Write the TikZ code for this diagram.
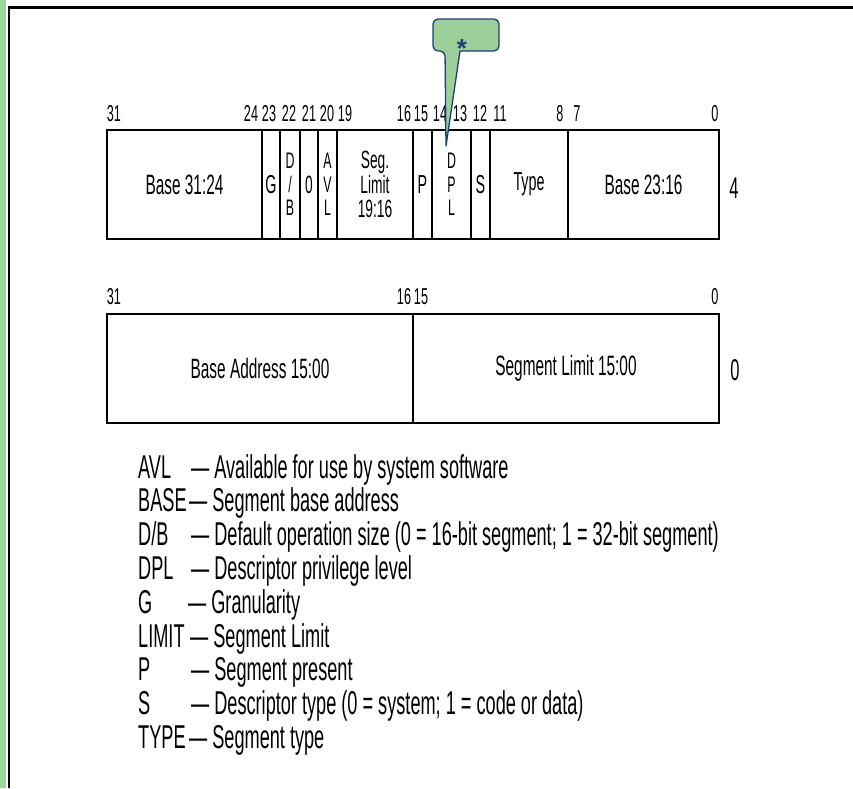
\documentclass[tikz,border=0pt]{standalone}
\usepackage{fontspec}
\setmainfont{Liberation Sans}[FakeStretch=0.55]
\newfontfamily\starfont{Liberation Sans}
\usetikzlibrary{positioning}

\definecolor{notefill}{HTML}{9DCF9B}
\definecolor{notedraw}{HTML}{1F3F73}
\definecolor{stripgreen}{HTML}{9ED49E}

\newcommand{\fsz}[1]{\fontsize{#1}{#1}\selectfont}

\begin{document}
\begin{tikzpicture}[
  x=1pt, y=-1pt,
  field/.style = {
    draw, line width=1.6pt, outer sep=0pt, inner sep=0pt,
    minimum width=#1, minimum height=109pt,
    align=center, font=\fsz{28}
  },
  stack/.style  = {font=\fontsize{22.5}{23.5}\selectfont},
  frame/.style  = {draw, line width=2.4pt},
  bitno/.style  = {anchor=base, inner sep=0pt, font=\fsz{23}},
  side/.style   = {inner sep=0pt, font=\fsz{30}},
  key/.style    = {anchor=base west, inner sep=0pt, font=\fsz{33}},
  note/.style   = {fill=notefill, draw=notedraw, line width=1.3pt, line join=round}
]
\useasboundingbox (0,0) rectangle (853,788);

% page edge
\fill[stripgreen] (0,0) rectangle (6,788);
\draw[line width=2.5pt] (9,788) -- (9,7.5) -- (853,7.5);

% upper doubleword
\node[field=155pt, anchor=north west] (basehi) at (107,130) {Base 31:24};
\node[field=18pt,  right=0pt of basehi, font=\fsz{26}] (g) {G};
\node[field=20pt,  right=0pt of g, stack] (db) {D\\/\\B};
\node[field=18pt,  right=0pt of db, font=\fsz{25}] (zero) {0};
\node[field=19pt,  right=0pt of zero, stack] (avl) {A\\V\\L};
\node[field=76pt,  right=0pt of avl, font=\fontsize{25}{24.5}\selectfont] (seglim) {Seg.\\Limit\\19:16};
\node[field=19pt,  right=0pt of seglim, font=\fsz{26}] (p) {P};
\node[field=39pt,  right=0pt of p, stack] (dpl) {D\\P\\L};
\node[field=19pt,  right=0pt of dpl, font=\fsz{26}] (s) {S};
\node[field=78pt,  right=0pt of s, font=\fsz{26}] (type) {Type};
\node[field=151pt, right=0pt of type]   (basemid) {Base 23:16};
\draw[frame] (basehi.north west) rectangle (basemid.south east);
\node[side] (off4) at (734,188) {4};

\foreach \b/\x in {31/114, 24/251, 23/269, 22/289, 21/309, 20/327, 19/345,
                   16/404, 15/421, 14/440, 13/460, 12/480, 11/500,
                   8/560, 7/577, 0/715}
  \node[bitno] (hi\b) at (\x,121) {\b};

% lower doubleword
\node[field=306pt, anchor=north west] (baselo) at (107,314) {Base Address 15:00};
\node[field=306pt, right=0pt of baselo] (limlo) {Segment Limit 15:00};
\draw[frame] (baselo.north west) rectangle (limlo.south east);
\node[side] (off0) at (735,370) {0};

\foreach \b/\x in {31/114, 16/404, 15/421, 0/715}
  \node[bitno] (lo\b) at (\x,304) {\b};

% legend
\foreach \k/\dx/\d [count=\i] in {
    AVL/191/Available for use by system software,
    BASE/189/Segment base address,
    {D/B}/191/Default operation size (0 = 16-bit segment; 1 = 32-bit segment),
    DPL/191/Descriptor privilege level,
    G/188/Granularity,
    LIMIT/190/Segment Limit,
    P/191/Segment present,
    S/191/Descriptor type (0 = system; 1 = code or data),
    TYPE/189/Segment type}
{
  \node[key] (k\i) at (138,{478+33.8*(\i-1)}) {\k};
  \node[key] (d\i) at (\dx,{478+33.8*(\i-1)}) {—\hspace{5pt}\d};
}

% callout on DPL
\coordinate (tip) at (446,146);
\draw[note] (460,51) [rounded corners=5pt] -- (499,51) -- (499,19) -- (433,19)
  -- (433,51) -- (445,51) [sharp corners] -- (tip) -- cycle;
\node[anchor=base, inner sep=0pt, text=notedraw, font=\starfont\bfseries\fsz{26}] (star) at (462,57) {*};

\end{tikzpicture}
\end{document}
